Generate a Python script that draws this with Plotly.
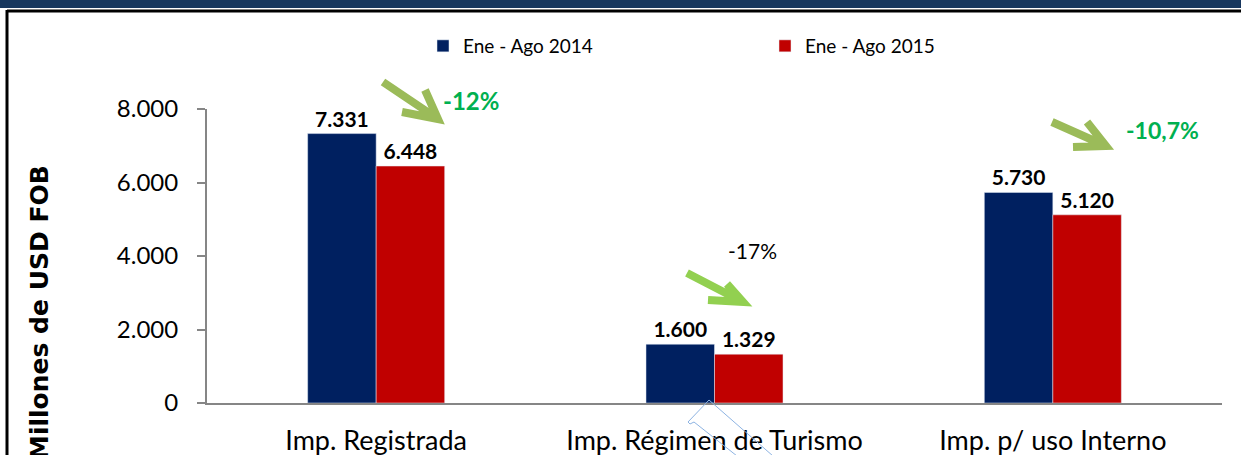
import plotly.graph_objects as go

categories = ["Imp. Registrada", "Imp. Régimen de Turismo", "Imp. p/ uso Interno"]
ene_ago_2014 = [7331, 1600, 5730]
ene_ago_2015 = [6448, 1329, 5120]
y_ticks = [0, 2000, 4000, 6000, 8000]

W, H = 1241, 455
L, R, T, B = 207, 1222, 109, 403  # plot area in pixels


def px(x):
    return (x - L) / (R - L)


def py(y):
    return (B - y) / (B - T)


FONT = "Lato"
NAVY = "#002060"
RED = "#C00000"

fig = go.Figure()
fig.add_trace(go.Bar(x=categories, y=ene_ago_2014, name="Ene - Ago 2014",
                     marker_color=NAVY, texttemplate="<b>%{y:,}</b>",
                     textposition="outside", cliponaxis=False,
                     textfont=dict(size=21, color="black", family=FONT)))
fig.add_trace(go.Bar(x=categories, y=ene_ago_2015, name="Ene - Ago 2015",
                     marker_color=RED, texttemplate="<b>%{y:,}</b>",
                     textposition="outside", cliponaxis=False,
                     textfont=dict(size=21, color="black", family=FONT)))

shapes = []
# header band and frame
shapes.append(dict(type="rect", xref="paper", yref="paper", x0=px(-5), x1=px(W + 5),
                   y0=py(8), y1=py(-5), fillcolor="#17375E", line_width=0, layer="below"))
shapes.append(dict(type="line", xref="paper", yref="paper", x0=px(7), x1=px(W + 5),
                   y0=py(11), y1=py(11), line=dict(color="black", width=3)))
shapes.append(dict(type="line", xref="paper", yref="paper", x0=px(7), x1=px(7),
                   y0=py(10), y1=py(H + 5), line=dict(color="black", width=3)))

# decorative arrows (tail, tip, wing1, wing2) in pixels
arrows = [
    ((383, 82), (438, 119), (402, 112), (425, 90), "#9BBB59"),
    ((687, 273), (743, 302), (708, 300), (727, 284), "#92D050"),
    ((1052, 122), (1106, 146), (1073, 147), (1087, 122), "#9BBB59"),
]
for tail, tip, w1, w2, col in arrows:
    path = "M {} {} L {} {} M {} {} L {} {} L {} {}".format(
        px(tail[0]), py(tail[1]), px(tip[0]), py(tip[1]),
        px(w1[0]), py(w1[1]), px(tip[0]), py(tip[1]), px(w2[0]), py(w2[1]))
    shapes.append(dict(type="path", xref="paper", yref="paper", path=path,
                       line=dict(color=col, width=8)))

# stray callout outline under the middle category
pts = [(773, 456), (709, 400), (688, 422), (690, 424), (694, 422), (737, 456)]
path = "M " + " L ".join("{} {}".format(px(a), py(b)) for a, b in pts)
shapes.append(dict(type="path", xref="paper", yref="paper", path=path,
                   line=dict(color="#8DB3E2", width=1)))

annotations = [
    dict(text="<b>-12%</b>", x=px(471), y=py(101), font=dict(size=24, color="#00B050", family=FONT)),
    dict(text="-17%", x=px(752), y=py(250), font=dict(size=21, color="black", family=FONT)),
    dict(text="<b>-10,7%</b>", x=px(1162), y=py(130), font=dict(size=23, color="#00B050", family=FONT)),
    dict(text="<b>Millones de USD FOB</b>", x=px(39), y=py(313), textangle=-90,
         font=dict(size=25, color="black", family="DejaVu Sans")),
]
for a in annotations:
    a.update(xref="paper", yref="paper", showarrow=False, xanchor="center", yanchor="middle")

fig.update_layout(
    width=W, height=H,
    margin=dict(l=L, r=W - R, t=T, b=H - B, pad=0),
    paper_bgcolor="white", plot_bgcolor="white",
    separators=",.",
    barmode="group", bargap=0.595, bargroupgap=0,
    font=dict(family=FONT, color="black"),
    shapes=shapes, annotations=annotations,
    legend=dict(orientation="h", x=px(423), y=py(46), xanchor="left", yanchor="middle",
                entrywidth=297, entrywidthmode="pixels",
                font=dict(size=19, family=FONT), bgcolor="rgba(0,0,0,0)"),
)
fig.update_yaxes(range=[0, 8000], tickvals=y_ticks, tickformat=",", showgrid=False,
                 showline=True, linecolor="#868686", linewidth=2, automargin=False,
                 ticks="outside", ticklen=8, tickcolor="#868686", tickwidth=2,
                 tickfont=dict(size=24, family=FONT), ticklabelstandoff=14, zeroline=False)
fig.update_xaxes(showline=True, linecolor="#868686", linewidth=2, showgrid=False,
                 automargin=False, ticks="", tickfont=dict(size=27, family=FONT),
                 ticklabelstandoff=13)

fig.write_html("out.html", config={"displayModeBar": False},
               post_script="document.body.style.margin='0';")
